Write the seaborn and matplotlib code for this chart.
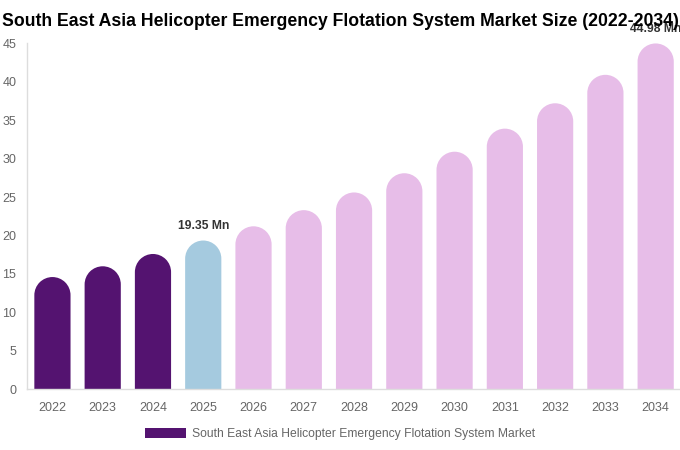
import matplotlib
matplotlib.use("Agg")
import matplotlib.pyplot as plt
from matplotlib.patches import Patch, PathPatch
from matplotlib.path import Path
import numpy as np
import seaborn as sns
import pandas as pd

years = ["2022", "2023", "2024", "2025", "2026", "2027", "2028",
         "2029", "2030", "2031", "2032", "2033", "2034"]
values = [14.6, 16.0, 17.6, 19.35, 21.2, 23.3, 25.6, 28.1, 30.9, 33.9, 37.2, 40.9, 44.98]
bar_colors = ["#541370"] * 3 + ["#a5cadf"] + ["#e7bde8"] * 9
labels = {"2025": "19.35 Mn", "2034": "44.98 Mn"}
title = "South East Asia Helicopter Emergency Flotation System Market Size (2022-2034)"
legend_label = "South East Asia Helicopter Emergency Flotation System Market"
yticks = [0, 5, 10, 15, 20, 25, 30, 35, 40, 45]

sns.set_theme(style="white")
plt.rcParams["font.family"] = ["Liberation Sans", "DejaVu Sans"]

df = pd.DataFrame({"year": years, "value": values})

W, H = 680, 450
fig = plt.figure(figsize=(W / 100, H / 100), dpi=100)
ax = fig.add_axes([27.3 / W, (H - 389.3) / H, 653.5 / W, (389.3 - 43.3) / H])

sns.barplot(data=df, x="year", y="value", hue="year", palette=bar_colors,
            legend=False, width=0.72, saturation=1, ax=ax, zorder=2)

ax.set_xlim(-0.5, len(years) - 0.5)
ax.set_ylim(0, 45)
ax.set_yticks(yticks)
ax.set_xlabel("")
ax.set_ylabel("")

# rounded tops: replace each bar with a single path (rect + semicircle top)
fig.canvas.draw()
bbox = ax.get_window_extent()
px_per_x = bbox.width / len(years)
px_per_y = bbox.height / 45.0
arc = Path.arc(0, 180)
for p in list(ax.patches):
    x0, w, h = p.get_x(), p.get_width(), p.get_height()
    fc = p.get_facecolor()
    r_px = w * px_per_x / 2
    r_y = r_px / px_per_y
    cx, cy = x0 + w / 2, h - r_y
    av = arc.vertices.copy()
    av[:, 0] = cx + av[:, 0] * w / 2
    av[:, 1] = cy + av[:, 1] * r_y
    verts = [(x0, 0), (x0 + w, 0), (x0 + w, cy)] + [tuple(v) for v in av[1:]] + [(x0, 0), (x0, 0)]
    codes = [Path.MOVETO, Path.LINETO, Path.LINETO] + list(arc.codes[1:]) + [Path.LINETO, Path.CLOSEPOLY]
    pp = PathPatch(Path(verts, codes), facecolor=fc, edgecolor="none", zorder=2)
    p.set_visible(False)
    ax.add_patch(pp)

for i, (yr, v) in enumerate(zip(years, values)):
    if yr in labels:
        ax.annotate(labels[yr], (i, v), xytext=(0, 6), textcoords="offset points",
                    ha="center", va="bottom", fontsize=8.7, fontweight="bold",
                    color="#333333", zorder=3, annotation_clip=False)

for s in ["top", "right"]:
    ax.spines[s].set_visible(False)
for s in ["left", "bottom"]:
    ax.spines[s].set_color("#dddddd")
    ax.spines[s].set_linewidth(1)
ax.tick_params(axis="both", length=0, labelsize=9, labelcolor="#666666")
ax.tick_params(axis="y", pad=8)
ax.tick_params(axis="x", pad=9)
ax.grid(False)

fig.text(0.5, (H - 21) / H, title, ha="center", va="center", fontsize=12.7,
         fontweight="bold", color="#000000", zorder=5)

handle = Patch(facecolor="#541370", edgecolor="none")
fig.legend([handle], [legend_label], loc="center", bbox_to_anchor=(0.5, (H - 434) / H),
           frameon=False, fontsize=8.7, labelcolor="#666666", handlelength=3.45,
           handleheight=0.95, handletextpad=0.5)

fig.savefig("out.png", dpi=100)
